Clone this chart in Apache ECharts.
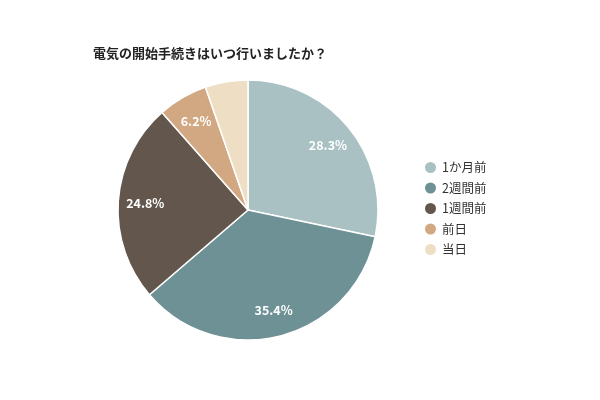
<!DOCTYPE html>
<html>
<head>
<meta charset="utf-8">
<script src="https://cdn.jsdelivr.net/npm/echarts@6/dist/echarts.min.js"></script>
<style>
    html, body { margin: 0; padding: 0; background: #fff; }
    #chart { width: 600px; height: 400px; }
</style>
</head>
<body>
<div id="chart"></div>
<script>
const titleText = '電気の開始手続きはいつ行いましたか？';
const categories = ['1か月前', '2週間前', '1週間前', '前日', '当日'];
const values = [28.3, 35.4, 24.8, 6.2, 5.3];
const colors = ['#a9c1c3', '#6e9196', '#63574d', '#d2a882', '#eedfc4'];
// the small last slice has no label in the original
const showLabel = [true, true, true, true, false];

const font = '"Noto Sans CJK JP", "Noto Sans", sans-serif';

let pieData = categories.map(function (name, i) {
    return { name: name, value: values[i], itemStyle: { color: colors[i] } };
});

let labelData = categories.map(function (name, i) {
    return {
        name: name,
        value: values[i],
        label: { show: showLabel[i] }
    };
});

let chart = echarts.init(document.getElementById('chart'));
chart.setOption({
    backgroundColor: '#fff',
    animation: false,
    title: {
        text: titleText,
        left: 88,
        top: 42,
        textStyle: {
            fontFamily: font,
            fontSize: 13,
            fontWeight: 'bold',
            color: '#222'
        }
    },
    legend: {
        orient: 'vertical',
        left: 418,
        top: 155,
        icon: 'circle',
        itemWidth: 13,
        itemHeight: 13,
        itemGap: 5.5,
        textStyle: {
            fontFamily: font,
            fontSize: 12.5,
            color: '#333'
        },
        data: categories
    },
    series: [
        {
            type: 'pie',
            center: [248, 210],
            radius: [0, 130],
            startAngle: 90,
            clockwise: true,
            label: { show: false },
            labelLine: { show: false },
            itemStyle: {
                borderColor: '#fff',
                borderWidth: 1.5
            },
            data: pieData
        },
        {
            // transparent ring, only used to place labels further out
            type: 'pie',
            center: [248, 210],
            radius: [70, 130],
            startAngle: 90,
            clockwise: true,
            silent: true,
            legendHoverLink: false,
            itemStyle: { color: 'rgba(0,0,0,0)' },
            label: {
                position: 'inside',
                formatter: '{c}%',
                fontFamily: font,
                fontSize: 12.5,
                fontWeight: 'bold',
                color: '#fff'
            },
            labelLine: { show: false },
            data: labelData
        }
    ]
});
</script>
</body>
</html>
